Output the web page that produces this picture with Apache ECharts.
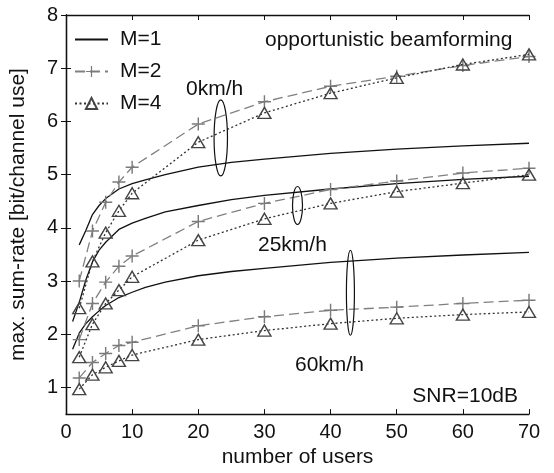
<!DOCTYPE html>
<html>
<head>
<meta charset="utf-8">
<script src="https://cdn.jsdelivr.net/npm/echarts@6/dist/echarts.min.js"></script>
<style>
  html, body { margin: 0; padding: 0; background: #fff; }
  #myChart { width: 554px; height: 473px; }
</style>
</head>
<body>
<div id="myChart"></div>
<script>
// tick labels
var xTicks = [0, 10, 20, 30, 40, 50, 60, 70];
var yTicks = [1, 2, 3, 4, 5, 6, 7, 8];

// M=1 curves (no markers)
var users0_M1 = [2, 3, 4, 5, 6, 8, 10, 12, 15, 20, 25, 30, 40, 50, 60, 70];
var rate0_M1 = [3.68, 3.95, 4.25, 4.42, 4.55, 4.73, 4.83, 4.9, 5.0, 5.14, 5.23, 5.29, 5.40, 5.48, 5.54, 5.59];
var usersM1 = [1, 2, 3, 4, 5, 6, 8, 10, 12, 15, 20, 25, 30, 40, 50, 60, 70];
var rate25_M1 = [2.24, 2.6, 3.02, 3.36, 3.58, 3.73, 3.97, 4.09, 4.18, 4.3, 4.42, 4.53, 4.61, 4.73, 4.83, 4.91, 4.97];
var rate60_M1 = [1.72, 2.02, 2.2, 2.33, 2.44, 2.54, 2.69, 2.79, 2.88, 2.98, 3.1, 3.18, 3.24, 3.35, 3.43, 3.49, 3.54];

// M=2 and M=4 (markers)
var users = [2, 4, 6, 8, 10, 20, 30, 40, 50, 60, 70];
var rate0_M2 = [3.0, 3.94, 4.48, 4.86, 5.14, 5.95, 6.37, 6.66, 6.85, 7.05, 7.22];
var rate0_M4 = [2.49, 3.37, 3.91, 4.32, 4.65, 5.61, 6.16, 6.53, 6.82, 7.07, 7.26];
var rate25_M2 = [1.9, 2.58, 2.98, 3.28, 3.47, 4.12, 4.46, 4.72, 4.88, 5.03, 5.12];
var rate25_M4 = [1.57, 2.19, 2.58, 2.83, 3.08, 3.77, 4.17, 4.46, 4.68, 4.84, 5.0];
var rate60_M2 = [1.18, 1.47, 1.64, 1.79, 1.85, 2.16, 2.33, 2.45, 2.51, 2.58, 2.64];
var rate60_M4 = [0.97, 1.24, 1.38, 1.5, 1.61, 1.9, 2.07, 2.2, 2.3, 2.37, 2.42];

var FONT = '"Liberation Sans", Arial, sans-serif';
var crossPath = 'path://M4.45,0 H5.55 V4.45 H10 V5.55 H5.55 V10 H4.45 V5.55 H0 V4.45 H4.45 Z';

function pairs(xs, ys) {
    var out = [];
    for (var i = 0; i < xs.length; i++) { out.push([xs[i], ys[i]]); }
    return out;
}

function m1(data) {
    // symbol kept but hidden so the legend shows only the line
    return { name: 'M=1', type: 'line', symbol: 'circle', showSymbol: false, data: data, z: 3,
        itemStyle: { color: '#111', opacity: 0 },
        lineStyle: { color: '#111', width: 1.3, type: 'solid' } };
}
function m2(data) {
    return { name: 'M=2', type: 'line', symbol: crossPath, symbolSize: 13, data: data, z: 4,
        itemStyle: { color: '#7a7a7a' },
        lineStyle: { color: '#808080', width: 1.3, type: [10, 5] } };
}
function m4(data) {
    return { name: 'M=4', type: 'line', symbol: 'triangle', symbolSize: [13, 11], data: data, z: 5,
        itemStyle: { color: 'rgba(255,255,255,0)', borderColor: '#444', borderWidth: 1.4 },
        lineStyle: { color: '#333', width: 1.3, type: [2, 2.5] } };
}

var myChart = echarts.init(document.getElementById('myChart'));

var option = {
    animation: false,
    textStyle: { fontFamily: FONT },
    grid: { left: 61, right: 25, top: 15, bottom: 52 },
    legend: {
        orient: 'vertical', left: 69, top: 24, itemWidth: 33, itemHeight: 14, itemGap: 11,
        textStyle: { fontSize: 21, color: '#111', fontFamily: FONT, padding: [0, 0, 0, 7] },
        data: ['M=1', 'M=2', 'M=4']
    },
    xAxis: [{
        type: 'value', min: 0, max: 70, interval: 10,
        name: 'number of users', nameLocation: 'middle', nameGap: 32,
        nameTextStyle: { fontSize: 21, color: '#111', fontFamily: FONT },
        axisLine: { lineStyle: { color: '#111', width: 1.3 } },
        axisTick: { inside: true, length: 5, lineStyle: { color: '#111' } },
        axisLabel: { fontSize: 20, color: '#111', margin: 8, fontFamily: FONT },
        splitLine: { show: false }
    }, {
        type: 'value', position: 'top', min: 0, max: 70, interval: 10,
        axisLine: { show: true, lineStyle: { color: '#111', width: 1.3 } },
        axisTick: { inside: true, length: 5, lineStyle: { color: '#111' } },
        axisLabel: { show: false }, splitLine: { show: false }
    }],
    yAxis: [{
        type: 'value', min: 0.5, max: 8,
        name: 'max. sum-rate [bit/channel use]', nameLocation: 'middle', nameGap: 37,
        nameTextStyle: { fontSize: 21, color: '#111', fontFamily: FONT },
        axisLine: { lineStyle: { color: '#111', width: 1.3 } },
        axisTick: { inside: true, length: 5, customValues: yTicks, lineStyle: { color: '#111' } },
        axisLabel: { fontSize: 20, color: '#111', margin: 8, customValues: yTicks, fontFamily: FONT },
        splitLine: { show: false }
    }, {
        type: 'value', position: 'right', min: 0.5, max: 8,
        axisLine: { show: true, lineStyle: { color: '#111', width: 1.3 } },
        axisTick: { inside: true, length: 5, customValues: yTicks, lineStyle: { color: '#111' } },
        axisLabel: { show: false }, splitLine: { show: false }
    }],
    series: [
        m1(pairs(users0_M1, rate0_M1)),
        m1(pairs(usersM1, rate25_M1)),
        m1(pairs(usersM1, rate60_M1)),
        m2(pairs(users, rate0_M2)),
        m2(pairs(users, rate25_M2)),
        m2(pairs(users, rate60_M2)),
        m4(pairs(users, rate0_M4)),
        m4(pairs(users, rate25_M4)),
        m4(pairs(users, rate60_M4))
    ]
};
myChart.setOption(option);

// speed annotations: ellipse centre in data coords, radii in px
var marks = [
    { at: [23.4, 5.69], rx: 6.7, ry: 38 },
    { at: [35.0, 4.42], rx: 5, ry: 19 },
    { at: [43.0, 2.78], rx: 4, ry: 42.5 }
];
var graphics = [];
marks.forEach(function (m) {
    var p = myChart.convertToPixel({ gridIndex: 0 }, m.at);
    graphics.push({ type: 'ellipse', z: 10, shape: { cx: p[0], cy: p[1], rx: m.rx, ry: m.ry },
        style: { fill: 'none', stroke: '#111', lineWidth: 1.2 } });
});
var notes = [
    { text: 'opportunistic beamforming', x: 265, y: 40, align: 'left' },
    { text: '0km/h', x: 186, y: 89, align: 'left' },
    { text: '25km/h', x: 258, y: 245, align: 'left' },
    { text: '60km/h', x: 295, y: 365, align: 'left' },
    { text: 'SNR=10dB', x: 518, y: 396, align: 'right' }
];
notes.forEach(function (n) {
    graphics.push({ type: 'text', z: 10, x: n.x, y: n.y,
        style: { text: n.text, fontSize: 21, fontFamily: FONT, fill: '#111', align: n.align, verticalAlign: 'middle' } });
});
myChart.setOption({ graphic: graphics });
</script>
</body>
</html>
